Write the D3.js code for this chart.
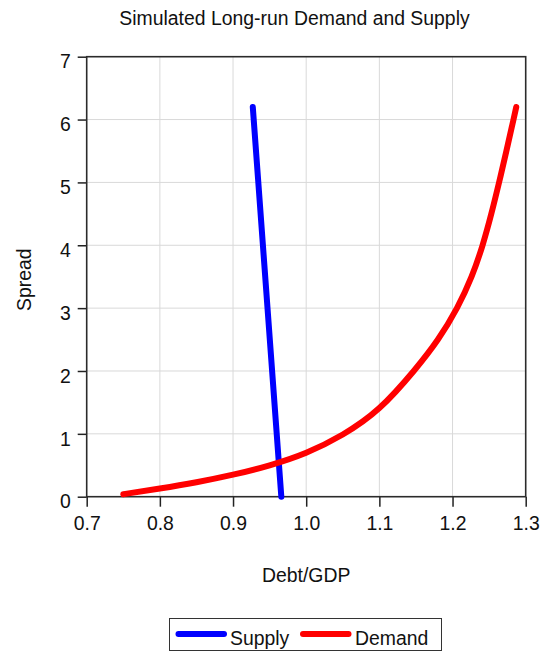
<!DOCTYPE html>
<html>
<head>
<meta charset="utf-8">
<script src="https://cdn.jsdelivr.net/npm/d3@7"></script>
<style>
  html, body { margin: 0; padding: 0; background: #fff; }
  svg { display: block; font-family: "Liberation Sans", Arial, Helvetica, sans-serif; }
</style>
</head>
<body>
<svg id="chart" width="543" height="654"></svg>
<script>
// Supply line (Debt/GDP, Spread)
const supplyDebt = [0.927, 0.966];
const supplySpread = [6.20, 0.00];

// Demand curve (Debt/GDP, Spread)
const demandDebt = [0.750, 0.800, 0.850, 0.900, 0.950, 1.000, 1.050, 1.100, 1.147, 1.180, 1.206, 1.226, 1.241, 1.253, 1.2636, 1.2736, 1.2833, 1.2871];
const demandSpread = [0.04, 0.13, 0.23, 0.35, 0.50, 0.70, 0.99, 1.41, 2.00, 2.50, 3.00, 3.50, 4.00, 4.50, 5.00, 5.50, 6.00, 6.20];

// Axis ticks
const xTicks = [0.7, 0.8, 0.9, 1.0, 1.1, 1.2, 1.3];
const yTicks = [0, 1, 2, 3, 4, 5, 6, 7];

const seriesNames = ["Supply", "Demand"];
const seriesColors = ["#0000ff", "#ff0000"];

const svg = d3.select("#chart");
const W = 543, H = 654;
const margin = { left: 86.7, right: W - 525.7, top: 56.7, bottom: H - 496.7 };

const x = d3.scaleLinear().domain([0.7, 1.3]).range([margin.left, W - margin.right]);
const y = d3.scaleLinear().domain([0, 7]).range([H - margin.bottom, margin.top]);

const fontSize = 19.4;

// Grid
const grid = svg.append("g").attr("stroke", "#d9d9d9").attr("stroke-width", 1);
grid.selectAll("line.v").data(xTicks.slice(1, -1)).join("line")
  .attr("x1", d => x(d)).attr("x2", d => x(d))
  .attr("y1", y(0)).attr("y2", y(7));
grid.selectAll("line.h").data(yTicks.slice(1, -1)).join("line")
  .attr("x1", x(0.7)).attr("x2", x(1.3))
  .attr("y1", d => y(d)).attr("y2", d => y(d));

// Axes
const xAxis = svg.append("g")
  .attr("transform", `translate(0,${y(0)})`)
  .call(d3.axisBottom(x).tickValues(xTicks).tickFormat(d3.format(".1f")).tickSize(10).tickPadding(5).tickSizeOuter(0));
const yAxis = svg.append("g")
  .attr("transform", `translate(${x(0.7)},0)`)
  .call(d3.axisLeft(y).tickValues(yTicks).tickFormat(d3.format("d")).tickSize(9).tickPadding(7).tickSizeOuter(0));

[xAxis, yAxis].forEach(g => {
  g.select(".domain").remove();
  g.selectAll(".tick line").attr("stroke", "#222").attr("stroke-width", 1.5);
  g.selectAll(".tick text").attr("fill", "#111").attr("font-size", fontSize)
    .attr("font-family", "Liberation Sans, Arial, sans-serif");
});
yAxis.selectAll(".tick text").attr("dy", "0.58em");
xAxis.selectAll(".tick text").attr("dy", "0.95em");

// Plot frame
svg.append("rect")
  .attr("x", x(0.7)).attr("y", y(7))
  .attr("width", x(1.3) - x(0.7)).attr("height", y(0) - y(7))
  .attr("fill", "none").attr("stroke", "#2b2b2b").attr("stroke-width", 1.6);

// Series
const line = d3.line().x(d => x(d[0])).y(d => y(d[1]));
const supplyPts = supplyDebt.map((d, i) => [d, supplySpread[i]]);
const demandPts = demandDebt.map((d, i) => [d, demandSpread[i]]);

svg.append("path").datum(supplyPts)
  .attr("d", line)
  .attr("fill", "none").attr("stroke", seriesColors[0]).attr("stroke-width", 6)
  .attr("stroke-linecap", "round").attr("stroke-linejoin", "round");
svg.append("path").datum(demandPts)
  .attr("d", line.curve(d3.curveNatural))
  .attr("fill", "none").attr("stroke", seriesColors[1]).attr("stroke-width", 6)
  .attr("stroke-linecap", "round").attr("stroke-linejoin", "round");

// Titles
svg.append("text")
  .attr("x", 294.5).attr("y", 25)
  .attr("text-anchor", "middle").attr("font-size", fontSize).attr("fill", "#111")
  .text("Simulated Long-run Demand and Supply");
svg.append("text")
  .attr("x", (x(0.7) + x(1.3)) / 2).attr("y", 581.5)
  .attr("text-anchor", "middle").attr("font-size", fontSize).attr("fill", "#111")
  .text("Debt/GDP");
svg.append("text")
  .attr("transform", `translate(30.5,${(y(0) + y(7)) / 2 + 3}) rotate(-90)`)
  .attr("text-anchor", "middle").attr("font-size", fontSize).attr("fill", "#111")
  .text("Spread");

// Legend
const legend = svg.append("g");
legend.append("rect")
  .attr("x", 169.5).attr("y", 618.5).attr("width", 272).attr("height", 32)
  .attr("fill", "#fff").attr("stroke", "#333").attr("stroke-width", 1);
const legendItems = [
  { x1: 178.5, x2: 224, tx: 230 },
  { x1: 303, x2: 348.5, tx: 355 }
];
legendItems.forEach((it, i) => {
  legend.append("line")
    .attr("x1", it.x1).attr("x2", it.x2).attr("y1", 634).attr("y2", 634)
    .attr("stroke", seriesColors[i]).attr("stroke-width", 6).attr("stroke-linecap", "round");
  legend.append("text")
    .attr("x", it.tx).attr("y", 645).attr("font-size", fontSize).attr("fill", "#111")
    .text(seriesNames[i]);
});
</script>
</body>
</html>
